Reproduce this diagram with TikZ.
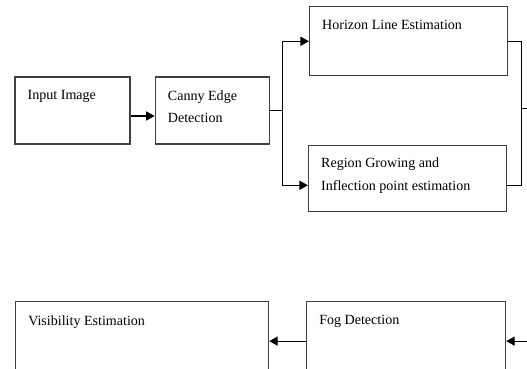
\documentclass[tikz,border=0pt]{standalone}
\usepackage{fontspec}
\setmainfont{Liberation Serif}
\usetikzlibrary{arrows.meta,positioning,calc}

\tikzset{
    block/.style={draw=black!75,line width=0.9pt,minimum height=1.7cm,inner sep=0pt},
    txt/.style={inner sep=0pt,align=left,font=\fontsize{10}{16}\selectfont},
    link/.style={line width=0.8pt,-{Triangle[length=6pt,width=6.5pt]}},
    wire/.style={line width=0.8pt}
}

\begin{document}
\begin{tikzpicture}
    % frame of the picture, the right side runs off the page
    \useasboundingbox (0,0) rectangle (13.175,-9.2);
    \clip (0,0) rectangle (13.175,-9.2);

    % first row
    \node[block,minimum width=2.875cm,minimum height=1.675cm] (input) at (1.8125,-2.7625) {};
    \node[block,minimum width=2.85cm,minimum height=1.675cm,right=0.6cm of input] (canny) {};

    % the two branches
    \node[block,minimum width=4.95cm,minimum height=1.725cm,above right=0pt and 0.975cm of canny.north east] (horizon) {};
    \node[block,minimum width=4.95cm,minimum height=1.65cm,below right=0pt and 0.95cm of canny.south east] (region) {};

    % bottom row, cut by the page edge
    \node[block,minimum width=6.325cm,anchor=north west] (visib) at (0.375,-7.525) {};
    \node[block,minimum width=4.975cm,anchor=north west] (fog) at (7.65,-7.525) {};

    % texts in the top left corners
    \node[txt,below right=0.35cm and 0.325cm of input.north west] (inputtxt) {Input Image};
    \node[txt,below right=0.35cm and 0.325cm of canny.north west] (cannytxt) {Canny Edge\\Detection};
    \node[txt,below right=0.35cm and 0.325cm of horizon.north west] (horizontxt) {Horizon Line Estimation};
    \node[txt,below right=0.33cm and 0.325cm of region.north west] (regiontxt) {Region Growing and\\Inflection point estimation};
    \node[txt,below right=0.35cm and 0.325cm of visib.north west] (visibtxt) {Visibility Estimation};
    \node[txt,below right=0.35cm and 0.325cm of fog.north west] (fogtxt) {Fog Detection};

    % connectors
    \draw[link] ([yshift=-0.1375cm]input.east) -- ([yshift=-0.1375cm]canny.west);

    \draw[wire] (canny.east) -- ++(0.325,0) coordinate (split);
    \draw[link] (split) |- (horizon.west);
    \draw[link] (split) |- ([yshift=-0.175cm]region.west);

    \draw[wire] (horizon.east) -- ++(0.325,0) coordinate (merge) |- ([yshift=-0.175cm]region.east);
    \draw[wire] ([yshift=0.06cm]merge |- canny.east) -- ++(1,0) coordinate (outer);

    \coordinate (back) at ([xshift=1cm,yshift=-0.1375cm]fog.east);
    \draw[link] (back) -- ([yshift=-0.1375cm]fog.east);
    \draw[link] ([yshift=-0.1375cm]fog.west) -- ([yshift=-0.1375cm]visib.east);

\end{tikzpicture}
\end{document}
